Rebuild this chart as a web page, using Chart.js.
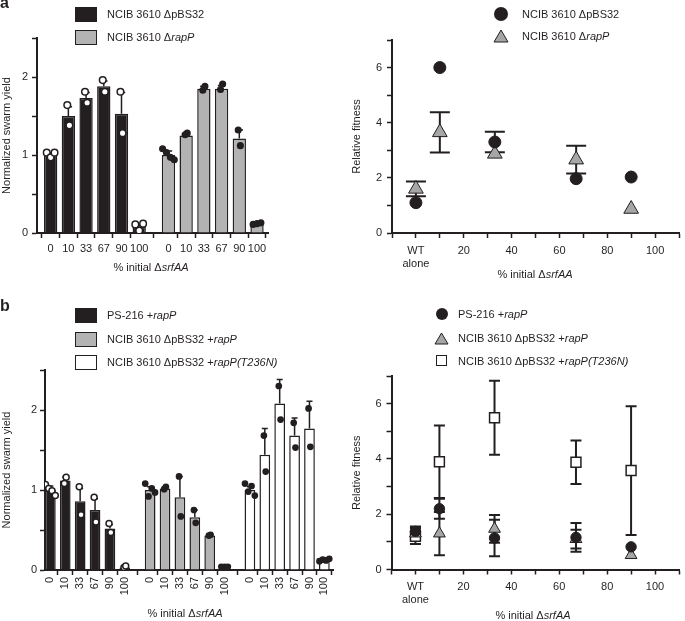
<!DOCTYPE html>
<html lang="en">
<head>
<meta charset="UTF-8">
<title>Swarm yield and relative fitness</title>
<script src="https://cdn.jsdelivr.net/npm/chart.js"></script>
<style>
  body { margin: 0; background: #fff; font-family: 'Liberation Sans', Arial, sans-serif; color: #231f20; }
  #fig { position: relative; width: 685px; height: 621px; overflow: hidden; }
  canvas { position: absolute; }
  .lbl { position: absolute; font-size: 11px; line-height: 14px; white-space: nowrap; }
  .xt { position: absolute; width: 200px; text-align: center; font-size: 11px; line-height: 14px; }
  .tag { position: absolute; font-weight: bold; font-size: 16px; line-height: 16px; }
  .box { position: absolute; width: 22px; height: 15px; box-sizing: border-box; border: 1.5px solid #231f20; }
  .mk { position: absolute; box-sizing: border-box; }
</style>
</head>
<body>
<div id="fig">
  <canvas id="yieldA" width="345" height="290" style="left:0;top:0"></canvas>
  <canvas id="fitA" width="340" height="290" style="left:345px;top:0"></canvas>
  <canvas id="yieldB" width="345" height="331" style="left:0;top:290px"></canvas>
  <canvas id="fitB" width="340" height="331" style="left:345px;top:290px"></canvas>

  <div class="tag" style="left:0;top:-5px">a</div>
  <div class="tag" style="left:0;top:298px">b</div>

  <!-- legends -->
  <div class="box" style="left:75px;top:7px;background:#231f20"></div>
  <div class="lbl" style="left:107px;top:7px">NCIB 3610 ΔpBS32</div>
  <div class="box" style="left:75px;top:30px;background:#b3b3b3"></div>
  <div class="lbl" style="left:107px;top:30px">NCIB 3610 Δ<i>rapP</i></div>

  <div class="mk" style="left:494px;top:7px;width:14px;height:14px;border-radius:50%;background:#231f20"></div>
  <div class="lbl" style="left:522px;top:7px">NCIB 3610 ΔpBS32</div>
  <svg class="mk" style="left:493px;top:29px" width="16" height="14"><polygon points="8,1 15,13 1,13" fill="#a6a6a6" stroke="#231f20" stroke-width="1"/></svg>
  <div class="lbl" style="left:522px;top:29px">NCIB 3610 Δ<i>rapP</i></div>

  <div class="box" style="left:75px;top:308px;background:#231f20"></div>
  <div class="lbl" style="left:107px;top:308px">PS-216 +<i>rapP</i></div>
  <div class="box" style="left:75px;top:332px;background:#b3b3b3"></div>
  <div class="lbl" style="left:107px;top:332px">NCIB 3610 ΔpBS32 +<i>rapP</i></div>
  <div class="box" style="left:75px;top:355px;background:#fff"></div>
  <div class="lbl" style="left:107px;top:355px">NCIB 3610 ΔpBS32 +<i>rapP(T236N)</i></div>

  <div class="mk" style="left:436px;top:308px;width:12px;height:12px;border-radius:50%;background:#231f20"></div>
  <div class="lbl" style="left:458px;top:307px">PS-216 +<i>rapP</i></div>
  <svg class="mk" style="left:434px;top:332px" width="15" height="13"><polygon points="7.5,1 14,12 1,12" fill="#a6a6a6" stroke="#231f20" stroke-width="1"/></svg>
  <div class="lbl" style="left:458px;top:331px">NCIB 3610 ΔpBS32 +<i>rapP</i></div>
  <div class="mk" style="left:436px;top:355px;width:11px;height:11px;border:1.5px solid #231f20;background:#fff"></div>
  <div class="lbl" style="left:458px;top:354px">NCIB 3610 ΔpBS32 +<i>rapP(T236N)</i></div>

  <!-- x axis titles -->
  <div class="xt" style="left:51px;top:260px">% initial Δ<i>srfAA</i></div>
  <div class="xt" style="left:435px;top:267px">% initial Δ<i>srfAA</i></div>
  <div class="xt" style="left:85px;top:606px">% initial Δ<i>srfAA</i></div>
  <div class="xt" style="left:433px;top:608px">% initial Δ<i>srfAA</i></div>
</div>

<script>
// ---- data ----
const doses = ['0', '10', '33', '67', '90', '100'];

// a, swarm yield
const aPbs32Mean = [1.0, 1.5, 1.73, 1.88, 1.53, 0.08];
const aPbs32Sd = [0.03, 0.12, 0.07, 0.07, 0.27, 0.04];
const aPbs32Reps = [[1.03, 0.97, 1.03], [1.64, 1.38], [1.81, 1.67], [1.96, 1.81], [1.81, 1.28], [0.11, 0.03, 0.12]];
const aRapPMean = [1.0, 1.25, 1.85, 1.85, 1.21, 0.12];
const aRapPSd = [0.05, 0.02, 0.03, 0.04, 0.11, 0.01];
const aRapPReps = [[1.08, 1.03, 0.97, 0.94], [1.26, 1.28], [1.83, 1.88], [1.84, 1.91], [1.32, 1.12], [0.11, 0.12, 0.13]];

// a, relative fitness
const fitX = [0, 10, 33, 67, 90];
const aFitPbs32 = [1.1, 6.0, 3.3, 1.97, 2.03];
const aFitPbs32Err = [0, 0, 0.37, 0, 0];
const aFitRapP = [1.6, 3.65, 2.87, 2.66, 0.87];
const aFitRapPErr = [0.27, 0.73, 0, 0.5, 0];

// b, swarm yield
const bPs216Mean = [1.0, 1.12, 0.86, 0.75, 0.52, 0.03];
const bPs216Sd = [0.05, 0.04, 0.16, 0.14, 0.05, 0.01];
const bPs216Reps = [[1.07, 1.02, 0.99, 0.93], [1.08, 1.16], [1.04, 0.69], [0.91, 0.60], [0.58, 0.47], [0.03, 0.05]];
const bRapPMean = [1.0, 1.02, 0.91, 0.66, 0.43, 0.04];
const bRapPSd = [0.04, 0.02, 0.26, 0.09, 0.01, 0.005];
const bRapPReps = [[1.08, 0.92, 1.02, 0.97], [1.01, 1.04], [1.17, 0.67], [0.75, 0.59], [0.43, 0.44], [0.04, 0.04, 0.04]];
const bT236nMean = [1.0, 1.44, 2.08, 1.68, 1.77, 0.12];
const bT236nSd = [0.04, 0.33, 0.30, 0.22, 0.34, 0.01];
const bT236nReps = [[1.08, 0.98, 1.05, 0.93], [1.68, 1.23], [2.30, 1.88], [1.84, 1.53], [2.02, 1.54], [0.11, 0.13, 0.12, 0.14]];

// b, relative fitness
const bFitPs216 = [1.38, 2.2, 1.14, 1.16, 0.82];
const bFitPs216Err = [0.18, 0.36, 0.66, 0.52, 0];
const bFitRapP = [1.3, 1.3, 1.47, 1.1, 0.52];
const bFitRapPErr = [0.22, 0.78, 0.5, 0.34, 0];
const bFitT236n = [1.2, 3.9, 5.49, 3.88, 3.58];
const bFitT236nErr = [0.28, 1.31, 1.34, 0.79, 2.33];

// ---- drawing ----
const INK = '#231f20', GREY = '#b3b3b3', TRI = '#a6a6a6';
Chart.defaults.font.family = "'Liberation Sans', Arial, sans-serif";
Chart.defaults.font.size = 11;
Chart.defaults.color = INK;

// upward SD whiskers on the bars
const barErrors = {
  id: 'barErrors',
  afterDatasetDraw(chart, args) {
    const ds = chart.data.datasets[args.index];
    if (!ds.sd) return;
    const ctx = chart.ctx, y = chart.scales.y;
    ctx.save();
    ctx.strokeStyle = INK;
    ctx.lineWidth = 1.5;
    args.meta.data.forEach((bar, i) => {
      const top = y.getPixelForValue(ds.data[i].y + ds.sd[i]);
      const cap = bar.width * 0.28;
      ctx.beginPath();
      ctx.moveTo(bar.x, bar.y);
      ctx.lineTo(bar.x, top);
      ctx.moveTo(bar.x - cap, top);
      ctx.lineTo(bar.x + cap, top);
      ctx.stroke();
    });
    ctx.restore();
  }
};

// two-sided error bars behind the fitness markers
const fitErrors = {
  id: 'fitErrors',
  beforeDatasetsDraw(chart, args, opts) {
    const ctx = chart.ctx, y = chart.scales.y;
    ctx.save();
    ctx.strokeStyle = INK;
    ctx.lineWidth = 2;
    chart.data.datasets.forEach((ds, d) => {
      if (!ds.err) return;
      chart.getDatasetMeta(d).data.forEach((pt, i) => {
        const e = ds.err[i];
        if (!e) return;
        const v = ds.data[i].y;
        const hi = y.getPixelForValue(v + e), lo = y.getPixelForValue(v - e);
        ctx.beginPath();
        ctx.moveTo(pt.x, hi); ctx.lineTo(pt.x, lo);
        ctx.moveTo(pt.x - opts.cap, hi); ctx.lineTo(pt.x + opts.cap, hi);
        ctx.moveTo(pt.x - opts.cap, lo); ctx.lineTo(pt.x + opts.cap, lo);
        ctx.stroke();
      });
    });
    ctx.restore();
  }
};

// slot index of each bar: one unit per dose, plus a gap between strains
function slots(nGroups, gap) {
  const out = [];
  for (let g = 0; g < nGroups; g++) out.push(doses.map((_, i) => i + g * (doses.length + gap)));
  return out;
}

function barSet(pos, mean, sd, fill, pct) {
  return {
    type: 'bar', order: 2, grouped: false,
    data: mean.map((v, i) => ({ x: pos[i], y: v })),
    sd: sd,
    backgroundColor: fill, borderColor: INK, borderWidth: 1.5,
    barPercentage: pct, categoryPercentage: 0.8
  };
}

function repSet(pos, reps, fill, r) {
  const pts = [];
  reps.forEach((rep, i) => {
    const step = rep.length > 2 ? 0.22 : 0.12;
    rep.forEach((v, j) => pts.push({ x: pos[i] + (j - (rep.length - 1) / 2) * step, y: v }));
  });
  return {
    type: 'scatter', order: 1, data: pts,
    pointRadius: r, pointBackgroundColor: fill, pointBorderColor: INK, pointBorderWidth: 1.5
  };
}

function axis(pad) {
  return {
    grid: { display: true, drawOnChartArea: false, drawTicks: true, tickLength: 5, tickWidth: 1.5, tickColor: INK },
    border: { display: true, color: INK, width: 2 },
    ticks: { padding: pad, autoSkip: false }
  };
}

function yieldChart(id, datasets, pos, geo) {
  const at = pos.flat();
  const x = axis(geo.xPad);
  x.type = 'linear';
  x.offset = false;
  x.min = geo.xMin;
  x.max = geo.xMax;
  x.ticks.callback = (v, i) => doses[i % doses.length];
  x.ticks.minRotation = geo.rot;
  x.ticks.maxRotation = geo.rot;
  x.afterBuildTicks = (s) => { s.ticks = at.map(v => ({ value: v })); };
  x.afterFit = (s) => { s.height = geo.xH; };

  const y = axis(geo.yPad);
  y.min = 0;
  y.max = 2.5;
  y.ticks.stepSize = 0.5;
  y.ticks.callback = (v) => Number.isInteger(v) ? v : '';
  y.title = { display: true, text: 'Normalized swarm yield', padding: { top: 0, bottom: 0 } };
  y.afterFit = (s) => { s.width = geo.yW; };

  return new Chart(document.getElementById(id), {
    type: 'bar',
    data: { datasets: datasets },
    options: {
      responsive: false, animation: false, events: [],
      layout: { padding: geo.pad, autoPadding: false },
      plugins: { legend: { display: false }, tooltip: { enabled: false } },
      scales: { x: x, y: y }
    },
    plugins: [barErrors]
  });
}

function pointSet(vals, err, style, r, fill, bw) {
  return {
    data: vals.map((v, i) => ({ x: fitX[i], y: v })),
    err: err,
    pointStyle: style, pointRadius: r,
    pointBackgroundColor: fill, pointBorderColor: INK, pointBorderWidth: bw
  };
}

function fitChart(id, datasets, geo) {
  const x = axis(geo.xPad);
  x.type = 'linear';
  x.min = -10;
  x.max = 110;
  x.ticks.stepSize = 10;
  x.ticks.maxRotation = 0;
  x.ticks.callback = (v) => v === 0 ? ['WT', 'alone'] : (v > 0 && v % 20 === 0 ? v : '');
  x.afterFit = (s) => { s.height = geo.xH; };

  const y = axis(5);
  y.min = 0;
  y.max = 7;
  y.ticks.stepSize = 1;
  y.ticks.callback = (v) => v % 2 === 0 ? v : '';
  y.title = { display: true, text: 'Relative fitness', padding: { top: 5.5, bottom: 0 } };
  y.afterFit = (s) => { s.width = geo.yW; };

  return new Chart(document.getElementById(id), {
    type: 'scatter',
    data: { datasets: datasets },
    options: {
      responsive: false, animation: false, events: [],
      layout: { padding: geo.pad, autoPadding: false },
      plugins: { legend: { display: false }, tooltip: { enabled: false }, fitErrors: { cap: geo.cap } },
      scales: { x: x, y: y }
    },
    plugins: [fitErrors]
  });
}

// panel a
const posA = slots(2, 0.65);
yieldChart('yieldA', [
  barSet(posA[0], aPbs32Mean, aPbs32Sd, INK, 0.94),
  barSet(posA[1], aRapPMean, aRapPSd, GREY, 0.94),
  repSet(posA[0], aPbs32Reps, '#fff', 3.3),
  repSet(posA[1], aRapPReps, INK, 2.8)
], posA, { pad: { left: 0, top: 38, right: 77, bottom: 0 }, yW: 37, xH: 57, xMin: -0.77, xMax: 12.27, xPad: 4, yPad: 4, rot: 0 });

fitChart('fitA', [
  pointSet(aFitPbs32, aFitPbs32Err, 'circle', 6, INK, 1),
  pointSet(aFitRapP, aFitRapPErr, 'triangle', 8.5, TRI, 1)
], { pad: { left: 0, top: 40, right: 1, bottom: 0 }, yW: 47, xH: 57, xPad: 6, cap: 10 });

// panel b
const posB = slots(3, 0.7);
yieldChart('yieldB', [
  barSet(posB[0], bPs216Mean, bPs216Sd, INK, 0.9),
  barSet(posB[1], bRapPMean, bRapPSd, GREY, 0.9),
  barSet(posB[2], bT236nMean, bT236nSd, '#fff', 0.9),
  repSet(posB[0], bPs216Reps, '#fff', 3),
  repSet(posB[1], bRapPReps, INK, 2.6),
  repSet(posB[2], bT236nReps, INK, 2.6)
], posB, { pad: { left: 0, top: 80, right: 12, bottom: 0 }, yW: 45, xH: 51, xMin: -0.36, xMax: 18.98, xPad: 2, yPad: 3, rot: 90 });

fitChart('fitB', [
  pointSet(bFitPs216, bFitPs216Err, 'circle', 5.2, INK, 1),
  pointSet(bFitRapP, bFitRapPErr, 'triangle', 6.8, TRI, 1),
  pointSet(bFitT236n, bFitT236nErr, 'rect', 7, '#fff', 1.5)
], { pad: { left: 0, top: 86, right: 3, bottom: 0 }, yW: 46.5, xH: 51.5, xPad: 6, cap: 5.5 });
</script>
</body>
</html>
